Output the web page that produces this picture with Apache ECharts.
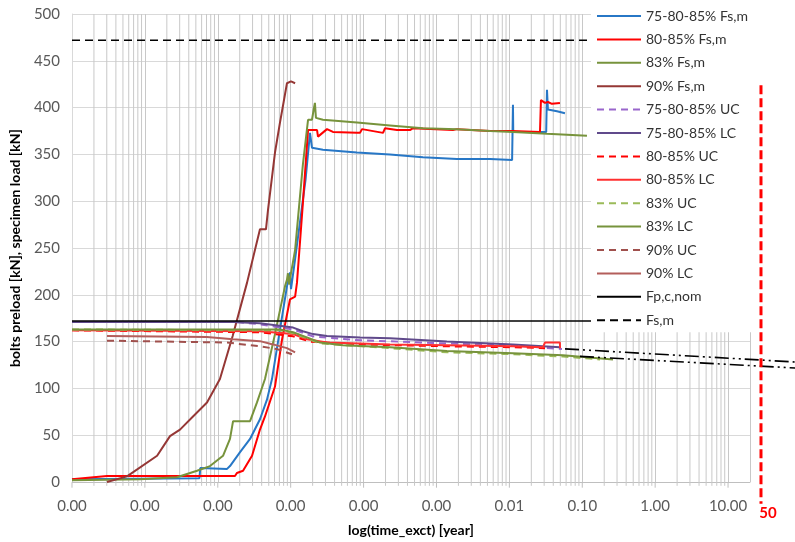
<!DOCTYPE html>
<html>
<head>
<meta charset="utf-8">
<script src="https://cdn.jsdelivr.net/npm/echarts@6/dist/echarts.min.js"></script>
<style>
html,body{margin:0;padding:0;background:#fff;}
#chart{width:795px;height:542px;}
</style>
</head>
<body>
<div id="chart"></div>
<script>
// ---- data (x: time in years, y: kN) ----
const xTickLabels = ['0.00','0.00','0.00','0.00','0.00','0.00','0.01','0.10','1.00','10.00'];
const yTicks = [0,50,100,150,200,250,300,350,400,450,500];
const minorMultipliers = [2,3,4,5,6,7,8,9];
const decades = [1e-8,1e-7,1e-6,1e-5,1e-4,1e-3,1e-2,1e-1,1,10];

const fs7580_85 = [[1e-8,3],[5.6e-7,4],[5.75e-7,15],[1.34e-6,14],[1.47e-6,17],[2.02e-6,32],[2.77e-6,46],[3.79e-6,67],[4.73e-6,88],[5.54e-6,110],[8.89e-6,209],[9.78e-6,224],[1.01e-5,206],[1.15e-5,238],[1.6e-5,323],[1.84e-5,373],[1.96e-5,357],[2.77e-5,355],[8.11e-5,352],[2.3e-4,350],[6.53e-4,347],[1.91e-3,345],[5.42e-3,345],[1.09e-2,344],[1.12e-2,403],[1.13e-2,374],[1.92e-2,374],[3.2e-2,374],[3.28e-2,419],[3.38e-2,398],[4.5e-2,396],[5.79e-2,394]];
const fs8085 = [[1e-8,3],[3.02e-8,6.4],[1.72e-6,6.4],[1.83e-6,9.6],[2.22e-6,12],[2.95e-6,28],[3.79e-6,56],[4.44e-6,70],[6.09e-6,102],[7.6e-6,152],[9.78e-6,195],[1.15e-5,198],[1.22e-5,213],[1.47e-5,298],[1.73e-5,376],[1.84e-5,378],[2.3e-5,376],[2.37e-5,369],[2.52e-5,369],[3.15e-5,377],[3.8e-5,374],[8.11e-5,373],[8.93e-5,373],[9.51e-5,377],[1.85e-4,373],[1.97e-4,378],[2.87e-4,376],[2.96e-4,378],[4.33e-4,376],[4.76e-4,378],[1.68e-3,376],[1.91e-3,377],[5.42e-3,375],[1.09e-2,375],[2.63e-2,374],[2.71e-2,408],[3.08e-2,405],[3.38e-2,406],[3.84e-2,404],[4.94e-2,405]];
const fs83 = [[1e-8,2],[8.57e-8,3],[2.75e-7,5],[5.19e-7,12],[7.82e-7,17],[1.18e-6,28],[1.47e-6,46],[1.62e-6,65],[2.77e-6,65],[3.45e-6,85],[4.44e-6,110],[6.09e-6,158],[8.35e-6,209],[8.89e-6,216],[9.18e-6,223],[9.49e-6,211],[1.15e-5,248],[1.47e-5,339],[1.73e-5,387],[1.96e-5,387],[2.09e-5,400],[2.15e-5,405],[2.22e-5,389],[2.77e-5,387],[8.11e-5,384],[2.3e-4,381],[6.53e-4,378],[1.91e-3,377],[5.42e-3,375],[1.12e-2,374],[3.28e-2,372],[0.116,370]];
const fs90 = [[3.02e-8,0],[5.68e-8,6],[1.47e-7,28],[2.21e-7,49],[3.03e-7,56],[4.57e-7,70],[7.11e-7,85],[1.07e-6,110],[1.6e-6,156],[2.52e-6,213],[3.79e-6,270],[4.58e-6,270],[4.89e-6,291],[6.09e-6,352],[7.13e-6,384],[8.89e-6,426],[1.01e-5,428],[1.15e-5,426]];
const uc7580_85 = [[1.83e-6,171],[3.79e-6,168.5],[1.08e-5,163],[2.02e-5,155.6],[8.93e-5,151.4],[2.3e-4,150.3],[1.39e-3,148],[1.12e-2,146],[5.27e-2,142]];
const lc7580_85 = [[1e-8,171],[1.62e-6,171],[3.79e-6,169.5],[1.08e-5,165],[1.47e-5,161],[2.02e-5,158],[3.15e-5,156],[8.93e-5,154.5],[2.3e-4,153.5],[1.39e-3,150],[1.12e-2,147],[4.94e-2,144]];
const uc8085 = [[1e-8,162],[3.79e-6,160],[1.08e-5,155.6],[1.84e-5,150],[8.93e-5,147],[1.39e-3,145],[1.12e-2,144],[3.08e-2,143]];
const lc8085 = [[1e-8,162],[3.79e-6,161],[1.08e-5,158],[1.67e-5,152.5],[3.15e-5,149],[8.93e-5,148],[2.3e-4,147],[1.39e-3,146],[1.12e-2,145],[2.89e-2,144],[3.08e-2,149],[4.94e-2,149],[4.95e-2,143]];
const uc83 = [[1e-8,163],[7.13e-6,162],[1.08e-5,159],[1.67e-5,153.5],[2.52e-5,148],[2.3e-4,143],[1.39e-3,138.6],[1.12e-2,136.5],[5.44e-2,134],[0.175,131]];
const lc83 = [[1e-8,163],[7.13e-6,163],[1.08e-5,160],[1.67e-5,154.5],[2.52e-5,149],[5.21e-5,146],[2.3e-4,144],[1.39e-3,140],[1.12e-2,137.5],[5.44e-2,135.5],[0.264,131]];
const uc90 = [[3.02e-8,151],[1.34e-6,149],[3.79e-6,145],[6.49e-6,142],[1.04e-5,136.5]];
const lc90 = [[3.02e-8,156],[7.11e-7,155],[1.62e-6,152.5],[3.79e-6,150.5],[5.72e-6,147],[8.89e-6,143],[1.15e-5,138.5]];
const fpcNom = [[1e-8,172],[20,172]];
const fsM = [[1e-8,472],[20,472]];
const extrapUpper = [[0.058,143],[83,129]];
const extrapLower = [[0.093,135],[83,122.6]];
const lifeLine = [[28.3,424],[28.3,-22]];
const lifeLabel = '50';

// ---- chart ----
const FONT = 'Lato, "Open Sans", sans-serif';
const X_MAX = 20;
// minor gridline polyline (breaks between lines)
const minorGrid = [];
decades.forEach(d => minorMultipliers.forEach(m => {
  const v = d * m;
  if (v < X_MAX) { minorGrid.push([v, -3], [v, yTicks[yTicks.length-1]], [v, '-']); }
}));
const majorTicks = [];
decades.forEach(d => { majorTicks.push([d, -5], [d, 0], [d, '-']); });

function ln(name, data, color, type, width, extra) {
  return Object.assign({
    name, type: 'line', data, symbol: 'none', showSymbol: false, clip: true, z: 3,
    xAxisIndex: 0, yAxisIndex: 0,
    lineStyle: {color, width: width || 2, type: type || 'solid'},
    itemStyle: {color}, emphasis: {disabled: true}, silent: true
  }, extra || {});
}
const DASH = [7,5];
const G2 = {xAxisIndex: 1, yAxisIndex: 1};
const series = [
  ln('_minorGrid', minorGrid, '#c8c8c8', 'solid', 1, Object.assign({z: 1, connectNulls: false}, G2)),
  ln('_majorTicks', majorTicks, '#bfbfbf', 'solid', 1, Object.assign({z: 1, connectNulls: false}, G2)),
  ln('75-80-85% Fs,m', fs7580_85, '#2777C6'),
  ln('80-85% Fs,m', fs8085, '#FF0000'),
  ln('83% Fs,m', fs83, '#77933C'),
  ln('90% Fs,m', fs90, '#953735'),
  ln('75-80-85% UC', uc7580_85, '#9966CC', DASH),
  ln('75-80-85% LC', lc7580_85, '#604A8B'),
  ln('80-85% UC', uc8085, '#FF0000', DASH),
  ln('80-85% LC', lc8085, '#FF3030'),
  ln('83% UC', uc83, '#9BBB59', DASH),
  ln('83% LC', lc83, '#77933C'),
  ln('90% UC', uc90, '#A0504D', DASH),
  ln('90% LC', lc90, '#B35E5B'),
  ln('Fp,c,nom', fpcNom, '#000000', 'solid', 1.6),
  ln('Fs,m', fsM, '#000000', [8,5], 1.6),
  ln('_extrapU', extrapUpper, '#000000', [14,4,2,4,2,4], 1.6, G2),
  ln('_extrapL', extrapLower, '#000000', [14,4,2,4,2,4], 1.6, G2),
  ln('_life', lifeLine.map((p,i)=> i===lifeLine.length-1 ? {value:p, label:{show:true, formatter: lifeLabel, position:'bottom', distance:2, offset:[7,0], color:'#FF0000', fontSize:15, fontWeight:'bold', fontFamily:FONT}} : p), '#FF0000', [9,4], 3, Object.assign({symbol:'circle', symbolSize: 0.01, showSymbol: true, label:{show:false}}, G2))
];

const legendNames = ['75-80-85% Fs,m','80-85% Fs,m','83% Fs,m','90% Fs,m','75-80-85% UC','75-80-85% LC','80-85% UC','80-85% LC','83% UC','83% LC','90% UC','90% LC','Fp,c,nom','Fs,m'];

// main grid geometry
const GRID = {left: 72, right: 45, top: 14, bottom: 59};
const W = 795, H = 542;
const plotW = W - GRID.left - GRID.right;
const plotH = H - GRID.top - GRID.bottom;
const pxPerDecade = plotW / (Math.log10(X_MAX) + 8);
const yMax = yTicks[yTicks.length-1];
const pxPerUnit = plotH / yMax;
// overlay grid spanning to the right/bottom edges, same scale
const x2Max = Math.pow(10, -8 + (W - GRID.left) / pxPerDecade);
const y2Min = yMax - (H - GRID.top) / pxPerUnit;

const chart = echarts.init(document.getElementById('chart'), null, {renderer:'canvas'});
chart.setOption({
  animation: false,
  backgroundColor: '#ffffff',
  textStyle: {fontFamily: FONT},
  grid: [
    Object.assign({containLabel: false}, GRID),
    {left: GRID.left, right: 0, top: GRID.top, bottom: 0, containLabel: false}
  ],
  legend: {
    data: legendNames, orient: 'vertical', left: 591, top: 4,
    itemWidth: 44, itemHeight: 14, itemGap: 9.4, padding: [5,6,5,5],
    backgroundColor: '#ffffff',
    itemStyle: {opacity: 0, borderWidth: 0},
    textStyle: {fontSize: 14, color: '#333333', fontFamily: FONT, lineHeight: 14},
    selectedMode: false
  },
  xAxis: [{
    type: 'log', logBase: 10, min: 1e-8, max: X_MAX, interval: 1, gridIndex: 0,
    name: 'log(time_exct) [year]', nameLocation: 'middle', nameGap: 41,
    nameTextStyle: {fontSize: 14, fontWeight: 'bold', color: '#000', fontFamily: FONT},
    axisLine: {show: true, lineStyle: {color: '#bfbfbf', width: 1}},
    axisTick: {show: false},
    axisLabel: {fontSize: 15, color: '#595959', margin: 17, showMaxLabel: false,
      formatter: v => { const l = Math.log10(v); const i = Math.round(l) + 8; return (Math.abs(l - Math.round(l)) < 1e-6 && xTickLabels[i] !== undefined) ? xTickLabels[i] : ''; }},
    splitLine: {show: true, lineStyle: {color: '#c8c8c8', width: 1}}
  }, {
    type: 'log', logBase: 10, min: 1e-8, max: x2Max, gridIndex: 1, show: false
  }],
  yAxis: [{
    type: 'value', min: yTicks[0], max: yMax, interval: 50, gridIndex: 0,
    name: 'bolts preload [kN], specimen load [kN]', nameLocation: 'middle', nameGap: 50, nameRotate: 90,
    nameTextStyle: {fontSize: 14, fontWeight: 'bold', color: '#000', fontFamily: FONT},
    axisLine: {show: true, lineStyle: {color: '#d9d9d9'}},
    axisTick: {show: false},
    axisLabel: {fontSize: 15, color: '#595959', margin: 12},
    splitLine: {show: true, lineStyle: {color: '#d9d9d9', width: 1}}
  }, {
    type: 'value', min: y2Min, max: yMax, gridIndex: 1, show: false
  }],
  series
});
</script>
</body>
</html>
